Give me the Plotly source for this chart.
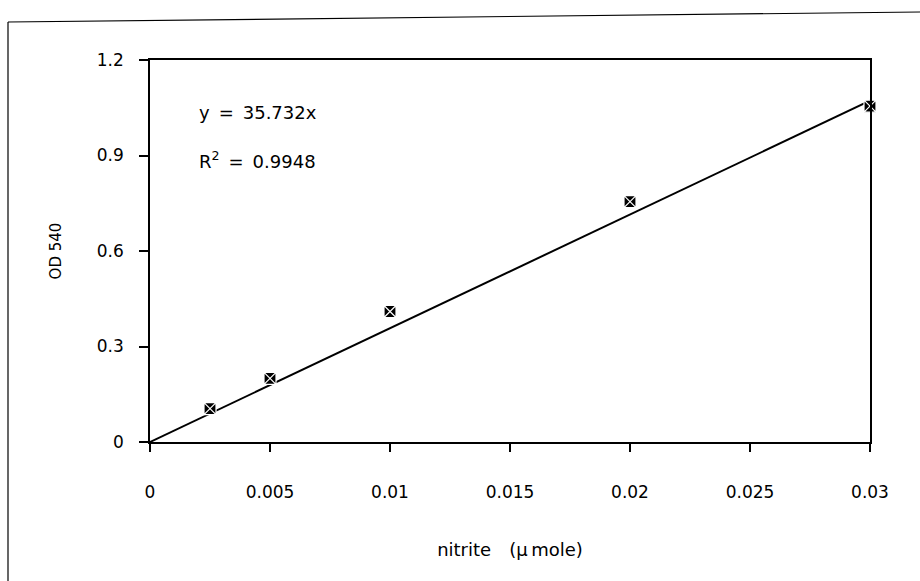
import plotly.graph_objects as go

# Nitrite standard curve: absorbance at 540 nm versus nitrite amount
nitrite_umole = [0.0025, 0.005, 0.01, 0.02, 0.03]
od540 = [0.105, 0.200, 0.410, 0.755, 1.055]

# Linear fit through the origin
slope = 35.732
r_squared = 0.9948
fit_x = [0.0, 0.03]
fit_y = [slope * x for x in fit_x]

x_ticks = [0, 0.005, 0.01, 0.015, 0.02, 0.025, 0.03]
x_tick_text = ["0", "0.005", "0.01", "0.015", "0.02", "0.025", "0.03"]
y_ticks = [0, 0.3, 0.6, 0.9, 1.2]
y_tick_text = ["0", "0.3", "0.6", "0.9", "1.2"]

font_family = "DejaVu Sans, Liberation Sans, Arial, sans-serif"
tick_size = 17
label_size = 18

# plot area in pixels (for placing paper-referenced items)
PX_L, PX_R, PX_T, PX_B = 150, 870, 60, 442
W_PX, H_PX = PX_R - PX_L, PX_B - PX_T


def px_x(px):
    return (px - PX_L) / W_PX


def px_y(py):
    return (PX_B - py) / H_PX


fig = go.Figure()

fig.add_trace(go.Scatter(
    x=fit_x, y=fit_y, mode="lines",
    line=dict(color="black", width=2),
    hoverinfo="skip", showlegend=False,
))

fig.add_trace(go.Scatter(
    x=nitrite_umole, y=od540, mode="markers",
    marker=dict(symbol="square-x", size=12, color="black",
                line=dict(color="white", width=1.2)),
    showlegend=False, cliponaxis=False,
))

fig.update_layout(
    width=920, height=581,
    margin=dict(l=PX_L, r=920 - PX_R, t=PX_T, b=581 - PX_B),
    paper_bgcolor="white", plot_bgcolor="white",
    font=dict(family=font_family, size=tick_size, color="black"),
    xaxis=dict(
        range=[0, 0.03], tickvals=x_ticks, ticktext=x_tick_text,
        showgrid=False, zeroline=False,
        showline=True, linecolor="black", linewidth=1.5, mirror=True,
        ticks="outside", ticklen=8, tickcolor="black", tickwidth=1.5,
        ticklabelstandoff=26,
        title=dict(text="nitrite\u2003(\u00b5\u2009mole)", standoff=42,
                   font=dict(size=label_size)),
    ),
    yaxis=dict(
        range=[0, 1.2], tickvals=y_ticks, ticktext=y_tick_text,
        showgrid=False, zeroline=False,
        showline=True, linecolor="black", linewidth=1.5, mirror=True,
        ticks="outside", ticklen=9, tickcolor="black", tickwidth=1.5,
        ticklabelstandoff=12,
        title=dict(text="OD 540", standoff=32, font=dict(size=15)),
    ),
    annotations=[
        dict(text=f"y\u2002=\u2002{slope}x", xref="paper", yref="paper",
             x=px_x(197), y=px_y(112),
             xanchor="left", yanchor="middle", showarrow=False,
             font=dict(size=label_size)),
        dict(text=f"R<sup>2</sup>\u2002=\u2002{r_squared}",
             xref="paper", yref="paper",
             x=px_x(197), y=px_y(160),
             xanchor="left", yanchor="middle", showarrow=False,
             font=dict(size=label_size)),
    ],
    shapes=[
        # outer figure frame (left and top edges)
        dict(type="line", xref="paper", yref="paper",
             x0=px_x(8), x1=px_x(8), y0=px_y(22), y1=px_y(600),
             line=dict(color="black", width=1.2)),
        dict(type="line", xref="paper", yref="paper",
             x0=px_x(8), x1=px_x(920), y0=px_y(22), y1=px_y(12),
             line=dict(color="black", width=1.2)),
    ],
)

fig.write_html("out.html")
